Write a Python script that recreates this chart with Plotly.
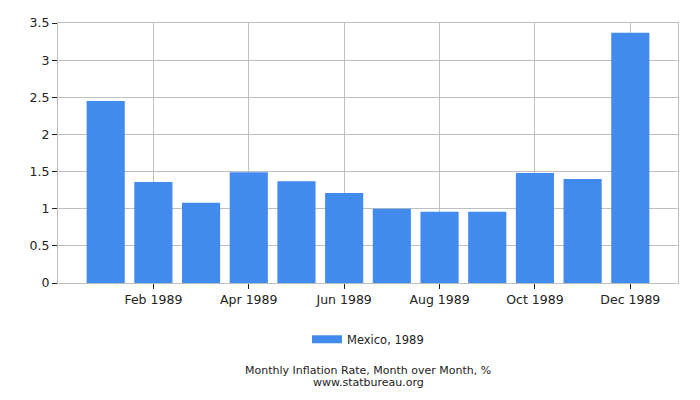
import plotly.graph_objects as go

months = ["Jan 1989", "Feb 1989", "Mar 1989", "Apr 1989", "May 1989", "Jun 1989",
          "Jul 1989", "Aug 1989", "Sep 1989", "Oct 1989", "Nov 1989", "Dec 1989"]
values = [2.45, 1.36, 1.08, 1.49, 1.37, 1.21, 1.00, 0.96, 0.96, 1.48, 1.40, 3.37]
tick_labels = ["Feb 1989", "Apr 1989", "Jun 1989", "Aug 1989", "Oct 1989", "Dec 1989"]
y_ticks = [0, 0.5, 1, 1.5, 2, 2.5, 3, 3.5]
y_tick_text = ["0", "0.5", "1", "1.5", "2", "2.5", "3", "3.5"]
series_name = "Mexico, 1989"
bar_color = "#428bee"

fig = go.Figure()
fig.add_trace(go.Bar(x=months, y=values, name=series_name,
                     marker=dict(color=bar_color, line=dict(width=0)),
                     showlegend=False))
# legend proxy (rectangular swatch)
fig.add_trace(go.Scatter(x=[None], y=[None], mode="lines", name=series_name,
                         line=dict(color=bar_color, width=8), showlegend=True))

font = "DejaVu Sans, Verdana, sans-serif"
fig.update_layout(
    width=700, height=400,
    margin=dict(l=49.5, r=30, t=14.5, b=124.5, pad=0, autoexpand=False),
    paper_bgcolor="white", plot_bgcolor="white",
    bargap=0.2,
    font=dict(family=font, size=13, color="#222"),
    showlegend=True,
    legend=dict(orientation="h", x=0.5, xanchor="center", y=-0.216, yanchor="middle",
                font=dict(size=11.5, color="#222")),
    xaxis=dict(type="category", categoryorder="array", categoryarray=months,
               range=[-1, 12], tickvals=tick_labels, ticktext=tick_labels,
               showgrid=True, gridcolor="#bfbfbf", gridwidth=1,
               ticks="outside", ticklen=5, tickcolor="#222",
               showline=True, linecolor="#bfbfbf", mirror=True,
               tickfont=dict(size=12.5, color="#222")),
    yaxis=dict(range=[0, 3.5], tickvals=y_ticks, ticktext=y_tick_text,
               showgrid=True, gridcolor="#bfbfbf", gridwidth=1,
               ticks="outside", ticklen=5, tickcolor="#222",
               showline=True, linecolor="#bfbfbf", mirror=True,
               zeroline=False,
               tickfont=dict(size=12.5, color="#222")),
    annotations=[
        dict(text="Monthly Inflation Rate, Month over Month, %", xref="paper", yref="paper",
             x=0.5, y=-0.335, xanchor="center", yanchor="middle", showarrow=False,
             font=dict(size=11, color="#222")),
        dict(text="www.statbureau.org", xref="paper", yref="paper",
             x=0.5, y=-0.381, xanchor="center", yanchor="middle", showarrow=False,
             font=dict(size=11, color="#222")),
    ],
)

fig.write_html("out.html")
